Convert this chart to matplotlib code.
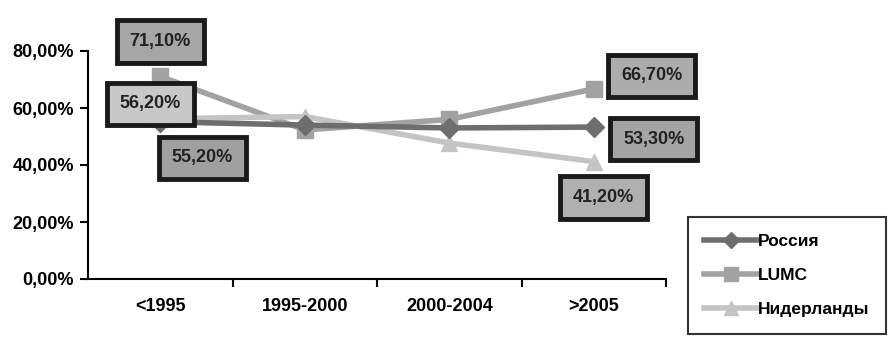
import matplotlib.pyplot as plt
from matplotlib.ticker import FuncFormatter, FixedLocator

plt.rcParams["font.family"] = ["Liberation Sans", "DejaVu Sans"]
plt.rcParams["font.weight"] = "bold"

# data
periods = ["<1995", "1995-2000", "2000-2004", ">2005"]
russia = [55.2, 54.0, 53.0, 53.3]
lumc = [71.1, 52.3, 56.0, 66.7]
nl = [56.2, 57.0, 47.7, 41.2]
names = ["Россия", "LUMC", "Нидерланды"]

fig = plt.figure(figsize=(8.88, 3.44), dpi=100)
ax = fig.add_axes([88/888, 1-279/344, (666-88)/888, (279-51)/344])

x = range(len(periods))
ax.plot(x, russia, color="#6e6e6e", lw=4, marker="D", ms=10, label=names[0], zorder=3)
ax.plot(x, lumc, color="#a2a2a2", lw=4, marker="s", ms=12, label=names[1], zorder=2)
ax.plot(x, nl, color="#c4c4c4", lw=4, marker="^", ms=12, label=names[2], zorder=2)

# labels: (series, index, offset in pixels, fill)
labels = [
    (lumc, 0, (0, 35), "#a6a6a6"),
    (nl, 0, (-10, 15), "#c8c8c8"),
    (russia, 0, (42, -36), "#a0a0a0"),
    (lumc, 3, (58, 13), "#acacac"),
    (russia, 3, (60, -12), "#a4a4a4"),
    (nl, 3, (10, -36), "#b0b0b0"),
]
for s, i, off, fc in labels:
    ax.annotate(f"{s[i]:.2f}%".replace(".", ","), xy=(i, s[i]), xytext=off,
                textcoords="offset pixels", ha="center", va="center",
                fontsize=13, color="#222222", zorder=5, annotation_clip=False,
                bbox=dict(boxstyle="square,pad=0.7", fc=fc, ec="#1a1a1a", lw=3.5))

ax.set_xlim(-0.5, 3.5)
ax.set_ylim(0, 80)
ax.set_yticks([0, 20, 40, 60, 80])
ax.yaxis.set_major_formatter(FuncFormatter(lambda v, p: f"{v:.2f}%".replace(".", ",")))
ax.set_xticks(list(x))
ax.set_xticklabels(periods)
ax.xaxis.set_minor_locator(FixedLocator([0.5, 1.5, 2.5, 3.5]))
ax.tick_params(axis="x", which="major", length=0, pad=14, labelsize=13)
ax.tick_params(axis="x", which="minor", length=6, width=1.5, direction="out")
ax.tick_params(axis="y", length=6, width=1.5, labelsize=13, pad=4)
for sp in ["top", "right"]:
    ax.spines[sp].set_visible(False)
for sp in ["left", "bottom"]:
    ax.spines[sp].set_linewidth(1.5)

leg = fig.legend(loc="upper left", bbox_to_anchor=(688/888, 1-217/344), fontsize=12.5,
                 frameon=True, fancybox=False, edgecolor="black", handlelength=3.0,
                 labelspacing=1.1, borderpad=0.95, handletextpad=0.1, markerscale=0.8,
                 borderaxespad=0)
leg.get_frame().set_linewidth(1.5)

fig.savefig("out.png", dpi=100)
